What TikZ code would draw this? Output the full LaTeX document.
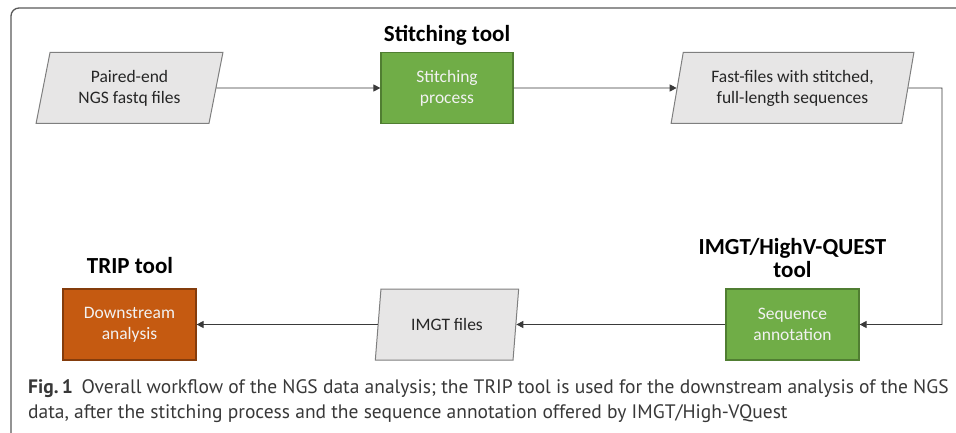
\documentclass[tikz,border=0pt]{standalone}
\usepackage{fontspec}
\setmainfont{Carlito}
\newfontfamily\capfont{PT Sans}
\usetikzlibrary{shapes.geometric,arrows.meta}
\definecolor{gfill}{HTML}{70AD47}
\definecolor{gdraw}{HTML}{507E32}
\definecolor{ofill}{HTML}{C55A11}
\definecolor{odraw}{HTML}{843C0C}
\definecolor{pfill}{HTML}{E7E6E6}
\definecolor{pdraw}{HTML}{7F7F7F}
\definecolor{lcol}{HTML}{3A3A3A}
\definecolor{capcol}{HTML}{383838}
\tikzset{
  datanode/.style={trapezium, trapezium left angle=76, trapezium right angle=104,
    trapezium stretches=true, draw=pdraw, fill=pfill, line width=1pt,
    minimum height=71pt, align=center, text=black!85,
    font=\fontsize{17.5}{21}\selectfont, inner sep=0pt},
  procnode/.style={rectangle, draw=gdraw, fill=gfill, line width=1.2pt,
    minimum height=71pt, minimum width=132pt, align=center, text=white!95!black,
    font=\fontsize{17.5}{21}\selectfont, inner sep=0pt},
  orangenode/.style={procnode, draw=odraw, fill=ofill},
  titlenode/.style={align=center, font=\fontsize{23}{23}\selectfont\bfseries, text=black, inner sep=0pt},
  arr/.style={draw=lcol, line width=0.9pt, -{Triangle[length=7pt,width=7pt]}},
  capline/.style={anchor=base west, inner sep=0pt, text=capcol, font=\capfont\fontsize{19.5}{25}\selectfont},
}
\begin{document}
\begin{tikzpicture}[x=1pt,y=-1pt]
\useasboundingbox (0,0) rectangle (956,433);
\begin{scope}
\clip (0,0) rectangle (956,433);
\draw[draw=black!65, line width=1.3pt, rounded corners=8pt] (11,460) -- (11,8) -- (990,8);
\end{scope}

% nodes
\node[datanode, minimum width=187pt] (p1) at (129.5,88) {Paired-end\\NGS fastq files};
\node[procnode] (s1) at (447,88) {Stitching\\process};
\node[titlenode] (t1) at (447,35) {Stitching tool};
\node[datanode, minimum width=243pt] (p3) at (792.5,88) {Fast-files with stitched,\\full-length sequences};
\node[procnode, minimum width=133pt] (seq) at (792.5,324.5) {Sequence\\annotation};
\node[titlenode] (t2) at (792.5,258) {IMGT/HighV-QUEST\\tool};
\node[datanode, minimum width=144pt] (imgt) at (447,324.5) {IMGT files};
\node[orangenode, minimum width=133pt] (ds) at (129.5,324.5) {Downstream\\analysis};
\node[titlenode] (t3) at (130,266) {TRIP tool};
\coordinate (turn) at (942,88);

% connectors
\draw[arr] (p1.east) -- (s1.west);
\draw[arr] (s1.east) -- (p3.west);
\draw[arr] (p3.east) -- (turn) |- (seq.east);
\draw[arr] (seq.west) -- (imgt.east);
\draw[arr] (imgt.west) -- (ds.east);

% caption
\node[capline] (cap1) at (28,393) {\textbf{Fig.\,1}\hspace{0.45em}Overall workflow of the NGS data analysis; the TRIP tool is used for the downstream analysis of the NGS};
\node[capline] (cap2) at (28,418) {data, after the stitching process and the sequence annotation offered by IMGT/High-VQuest};
\end{tikzpicture}
\end{document}
